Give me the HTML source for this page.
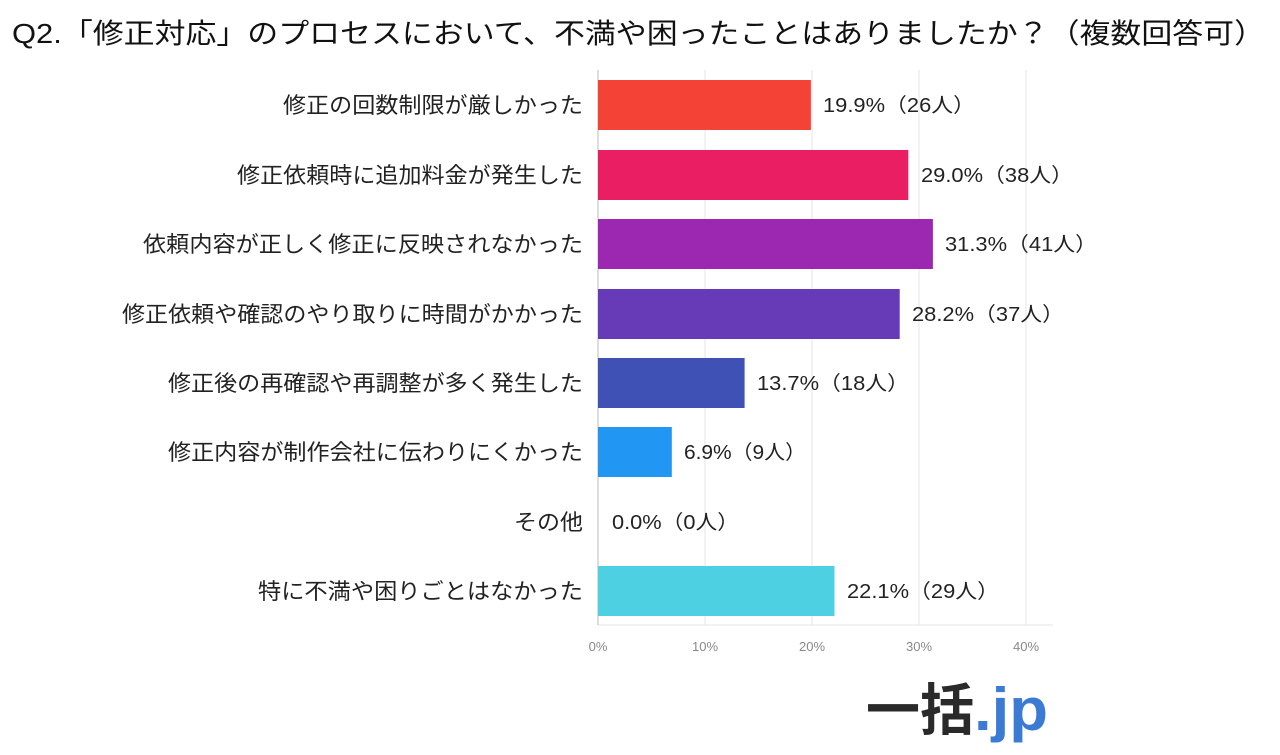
<!DOCTYPE html>
<html><head><meta charset="utf-8"><style>
body{margin:0;background:#fff;width:1280px;height:750px;overflow:hidden}
text{font-family:"Liberation Sans","Noto Sans CJK JP",sans-serif}
</style></head><body>
<svg width="1280" height="750" xmlns="http://www.w3.org/2000/svg">
<text x="12" y="43" font-size="28" fill="#111" textLength="1253" lengthAdjust="spacingAndGlyphs">Q2.「修正対応」のプロセスにおいて、不満や困ったことはありましたか？（複数回答可）</text>
<g stroke="#e6e6e6" stroke-width="1">
<line x1="705" y1="70" x2="705" y2="625"/><line x1="812" y1="70" x2="812" y2="625"/>
<line x1="919" y1="70" x2="919" y2="625"/><line x1="1026" y1="70" x2="1026" y2="625"/>
<line x1="598" y1="625" x2="1053" y2="625"/>
</g>
<line x1="598" y1="70" x2="598" y2="625" stroke="#bbb" stroke-width="1"/>
<g font-size="13" fill="#888" text-anchor="middle">
<text x="598" y="651">0%</text><text x="705" y="651">10%</text><text x="812" y="651">20%</text><text x="919" y="651">30%</text><text x="1026" y="651">40%</text>
</g>
<g>
<rect x="598" y="80" width="212.9" height="50" fill="#f44336"/>
<rect x="598" y="150" width="310.3" height="50" fill="#e91e63"/>
<rect x="598" y="219" width="334.9" height="50" fill="#9c27b0"/>
<rect x="598" y="289" width="301.7" height="50" fill="#673ab7"/>
<rect x="598" y="358" width="146.6" height="50" fill="#3f51b5"/>
<rect x="598" y="427" width="73.8" height="50" fill="#2196f3"/>
<rect x="598" y="566" width="236.5" height="50" fill="#4dd0e1"/>
</g>
<g font-size="22" fill="#222">
<text x="283" y="113" textLength="300" lengthAdjust="spacingAndGlyphs">修正の回数制限が厳しかった</text>
<text x="237" y="183" textLength="346" lengthAdjust="spacingAndGlyphs">修正依頼時に追加料金が発生した</text>
<text x="143" y="252" textLength="440" lengthAdjust="spacingAndGlyphs">依頼内容が正しく修正に反映されなかった</text>
<text x="122" y="322" textLength="461" lengthAdjust="spacingAndGlyphs">修正依頼や確認のやり取りに時間がかかった</text>
<text x="168" y="391" textLength="415" lengthAdjust="spacingAndGlyphs">修正後の再確認や再調整が多く発生した</text>
<text x="168" y="460" textLength="415" lengthAdjust="spacingAndGlyphs">修正内容が制作会社に伝わりにくかった</text>
<text x="514" y="530" textLength="69" lengthAdjust="spacingAndGlyphs">その他</text>
<text x="258" y="599" textLength="325" lengthAdjust="spacingAndGlyphs">特に不満や困りごとはなかった</text>
</g>
<g font-size="20" fill="#222">
<text x="823" y="112" textLength="152" lengthAdjust="spacingAndGlyphs">19.9%（26人）</text>
<text x="921" y="182" textLength="152" lengthAdjust="spacingAndGlyphs">29.0%（38人）</text>
<text x="945" y="251" textLength="152" lengthAdjust="spacingAndGlyphs">31.3%（41人）</text>
<text x="912" y="321" textLength="152" lengthAdjust="spacingAndGlyphs">28.2%（37人）</text>
<text x="757" y="390" textLength="152" lengthAdjust="spacingAndGlyphs">13.7%（18人）</text>
<text x="684" y="459" textLength="122" lengthAdjust="spacingAndGlyphs">6.9%（9人）</text>
<text x="612" y="529" textLength="127" lengthAdjust="spacingAndGlyphs">0.0%（0人）</text>
<text x="847" y="598" textLength="152" lengthAdjust="spacingAndGlyphs">22.1%（29人）</text>
</g>
<text x="866" y="730" font-size="56" font-weight="bold" fill="#2a2a2a" textLength="108" lengthAdjust="spacingAndGlyphs">一括</text>
<text x="974" y="730" font-size="60" font-weight="bold" fill="#3b7bd4" textLength="74" lengthAdjust="spacingAndGlyphs">.jp</text>
</svg>
</body></html>
